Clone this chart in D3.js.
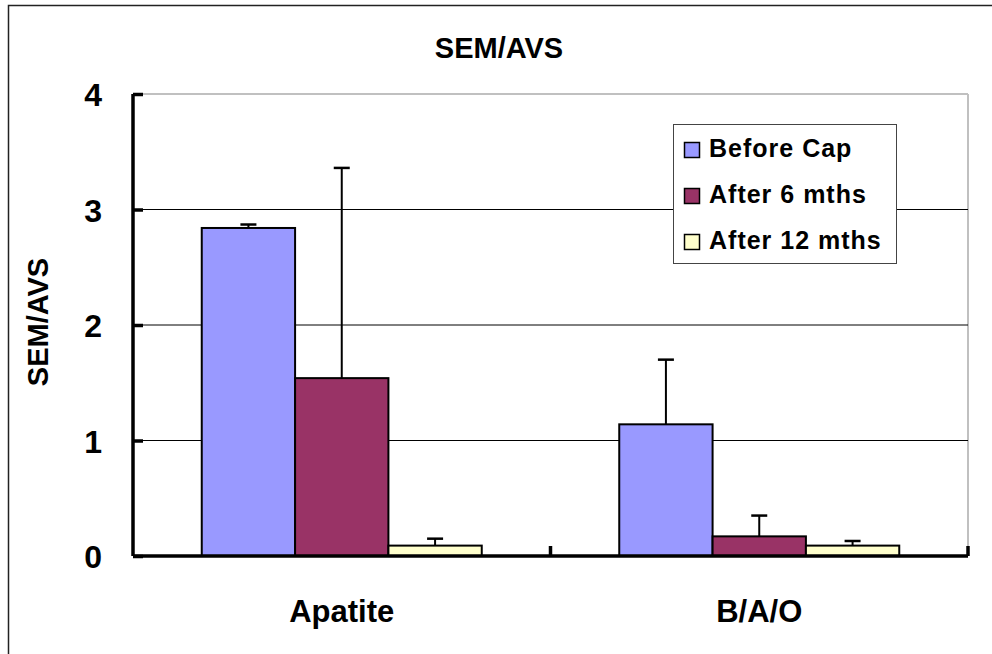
<!DOCTYPE html>
<html><head><meta charset="utf-8">
<script src="https://cdn.jsdelivr.net/npm/d3@7"></script>
<style>body{margin:0;background:#fff}svg{display:block}text{font-family:"Liberation Sans",Arial,sans-serif;font-weight:bold}</style>
</head><body><svg id="c" width="992" height="654"></svg>
<script>
const categories = ["Apatite", "B/A/O"];
const seriesNames = ["Before Cap", "After 6 mths", "After 12 mths"];
const seriesColors = ["#9999ff", "#993366", "#ffffcc"];
const beforeCap = [2.84, 1.14];
const after6 = [1.54, 0.17];
const after12 = [0.09, 0.09];
const errBeforeCap = [0.03, 0.56];
const errAfter6 = [1.82, 0.18];
const errAfter12 = [0.06, 0.04];
const yTicks = [0, 1, 2, 3, 4];

const values = [beforeCap, after6, after12];
const errors = [errBeforeCap, errAfter6, errAfter12];

const FONT = "Liberation Sans, Arial, sans-serif";
const svg = d3.select("#c");
const L = 133, R = 968, T = 94, B = 556;

svg.append("rect").attr("x", 8.5).attr("y", 5.5).attr("width", 1000).attr("height", 700)
  .attr("fill", "none").attr("stroke", "#222").attr("stroke-width", 1.5);

const y = d3.scaleLinear().domain([0, 4]).range([B, T]);
const x0 = d3.scaleBand().domain(categories).range([L, R]).paddingInner(0).paddingOuter(0);
const gapFrac = 137.5 / 417.5;
const x1 = d3.scaleBand().domain(seriesNames).range([x0.bandwidth() * gapFrac / 2, x0.bandwidth() * (1 - gapFrac / 2)]);

// plot area border (gray)
svg.append("line").attr("x1", L).attr("x2", R).attr("y1", T).attr("y2", T).attr("stroke", "#c0c0c0").attr("stroke-width", 2);
svg.append("line").attr("x1", R).attr("x2", R).attr("y1", T).attr("y2", B).attr("stroke", "#c0c0c0").attr("stroke-width", 2);

// gridlines
svg.append("g").selectAll("line").data(yTicks.filter(d => d > 0 && d < 4)).join("line")
  .attr("x1", L).attr("x2", R).attr("y1", d => y(d)).attr("y2", d => y(d))
  .attr("stroke", "#000").attr("stroke-width", 1);

// bars
const groups = svg.append("g").selectAll("g").data(categories).join("g")
  .attr("transform", d => `translate(${x0(d)},0)`);
seriesNames.forEach((s, si) => {
  groups.append("rect")
    .attr("x", (d, i) => x1(s))
    .attr("y", (d, i) => y(values[si][i]))
    .attr("width", x1.bandwidth())
    .attr("height", (d, i) => B - y(values[si][i]))
    .attr("fill", seriesColors[si]).attr("stroke", "#000").attr("stroke-width", 2);
});
// error bars
seriesNames.forEach((s, si) => {
  const cx = x1(s) + x1.bandwidth() / 2;
  groups.append("line")
    .attr("x1", cx).attr("x2", cx)
    .attr("y1", (d, i) => y(values[si][i]))
    .attr("y2", (d, i) => y(values[si][i] + errors[si][i]))
    .attr("stroke", "#000").attr("stroke-width", 2);
  groups.append("line")
    .attr("x1", cx - 8).attr("x2", cx + 8)
    .attr("y1", (d, i) => y(values[si][i] + errors[si][i]))
    .attr("y2", (d, i) => y(values[si][i] + errors[si][i]))
    .attr("stroke", "#000").attr("stroke-width", 2.5);
});

// y axis
const yAxis = d3.axisLeft(y).tickValues(yTicks).tickFormat(d3.format("d")).tickSize(-10).tickPadding(31);
const ga = svg.append("g").attr("transform", `translate(${L},0)`).call(yAxis);
ga.select(".domain").attr("stroke", "#000").attr("stroke-width", 3.5).attr("d", `M0,${T}V${B}`);
ga.selectAll(".tick line").attr("stroke", "#000").attr("stroke-width", 3.5);
ga.selectAll(".tick text").attr("font-size", 32).attr("font-family", FONT).attr("font-weight", "bold").attr("fill", "#000").attr("dy", "0.36em");

// x axis
const xAxis = d3.axisBottom(x0).tickSize(0);
const gx = svg.append("g").attr("transform", `translate(0,${B})`).call(xAxis);
gx.select(".domain").attr("stroke", "#000").attr("stroke-width", 3.5).attr("d", `M${L},0H${R}`);
gx.selectAll(".tick text").attr("font-size", 31).attr("font-family", FONT).attr("font-weight", "bold").attr("fill", "#000")
  .attr("dy", null).attr("y", 66);
// category separator ticks (pointing up)
svg.append("g").selectAll("line").data(categories).join("line")
  .attr("x1", d => x0(d) + x0.bandwidth()).attr("x2", d => x0(d) + x0.bandwidth())
  .attr("y1", B).attr("y2", B - 10).attr("stroke", "#000").attr("stroke-width", 3.5);

// title
svg.append("text").attr("x", 499).attr("y", 58).attr("text-anchor", "middle").attr("font-size", 29).text("SEM/AVS");
// y label
svg.append("text").attr("transform", "translate(48,322) rotate(-90)").attr("text-anchor", "middle").attr("font-size", 29)
  .text("SEM/AVS");

// legend
const lg = svg.append("g");
lg.append("rect").attr("x", 673.5).attr("y", 124.5).attr("width", 223).attr("height", 139)
  .attr("fill", "#fff").attr("stroke", "#444").attr("stroke-width", 1);
seriesNames.forEach((s, i) => {
  const cy = 150 + i * 46;
  lg.append("rect").attr("x", 684.5).attr("y", cy - 7.5).attr("width", 15).attr("height", 15)
    .attr("fill", seriesColors[i]).attr("stroke", "#000").attr("stroke-width", 1.5);
  lg.append("text").attr("x", 709).attr("y", cy + 7).attr("font-size", 25).attr("letter-spacing", 1).text(s);
});
</script></body></html>
